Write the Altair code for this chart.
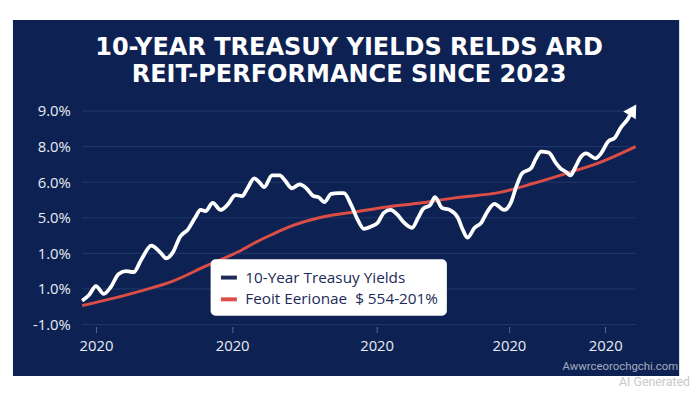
import altair as alt
import pandas as pd

# ---------------- data ----------------
title_lines = ["10-YEAR TREASUY YIELDS RELDS ARD", "REIT-PERFORMANCE SINCE 2023"]
y_tick_pos = [0, 1, 2, 3, 4, 5, 6]
y_tick_labels = ["-1.0%", "1.0%", "1.0%", "5.0%", "6.0%", "8.0%", "9.0%"]
x_tick_pos = [2.5, 27.1, 53.2, 77.1, 94.5]
x_tick_labels = ["2020", "2020", "2020", "2020", "2020"]
series_names = ["10-Year Treasuy Yields", "Feoit Eerionae\u00a0 $ 554-201%"]

treasury_t = [0, 1.25, 2.5, 3.9, 5.2, 6.6, 8.0, 9.3, 10.7, 12.5, 14.1, 15.2, 16.4, 17.7,
              19.1, 20.4, 21.4, 22.3, 23.6, 25.0, 26.25, 27.7, 28.9, 29.8, 31.1, 32.0,
              32.9, 34.3, 35.7, 36.6, 37.9, 39.3, 40.5, 41.8, 42.7, 43.75, 45.0, 46.25,
              47.3, 48.6, 49.8, 50.9, 52.1, 53.4, 54.5, 55.7, 57.0, 58.0, 59.6, 60.7,
              61.6, 62.9, 63.75, 65.0, 66.4, 67.9, 68.75, 69.6, 70.9, 72.1, 73.2, 74.5,
              76.25, 77.5, 78.4, 79.5, 81.1, 82.0, 82.9, 84.3, 85.5, 86.4, 87.5, 88.2,
              89.1, 90.0, 91.1, 92.7, 93.75, 95.0, 96.25, 97.3, 98.6, 99.5]
treasury_v = [0.67, 0.83, 1.08, 0.86, 1.06, 1.42, 1.50, 1.47, 1.83, 2.22, 2.03, 1.86, 2.03,
              2.47, 2.67, 3.00, 3.22, 3.19, 3.42, 3.22, 3.36, 3.64, 3.61, 3.81, 4.11, 4.00,
              3.86, 4.19, 4.19, 4.06, 3.83, 3.94, 3.83, 3.61, 3.58, 3.44, 3.67, 3.69, 3.69,
              3.36, 2.94, 2.69, 2.75, 2.86, 3.14, 3.22, 3.08, 2.89, 2.72, 3.00, 3.25, 3.36,
              3.58, 3.28, 3.22, 3.00, 2.67, 2.44, 2.72, 2.86, 3.17, 3.39, 3.22, 3.44, 3.86,
              4.25, 4.39, 4.67, 4.86, 4.83, 4.56, 4.39, 4.28, 4.19, 4.42, 4.69, 4.81, 4.67,
              4.81, 5.14, 5.25, 5.53, 5.78, 6.03]

reit_t = [0, 10.5, 16.4, 22.3, 28.4, 31.6, 34.3, 37.5, 43.6, 49.5, 55.4, 61.4, 67.3,
          75.7, 81.6, 87.5, 93.6, 100]
reit_v = [0.53, 0.94, 1.22, 1.64, 2.06, 2.33, 2.53, 2.75, 3.03, 3.17, 3.31, 3.42, 3.56,
          3.72, 3.97, 4.25, 4.56, 5.00]

# ---------------- styling ----------------
NAVY_BG = "#0d2252"
GRID = "#22396c"
WHITE = "#ffffff"
RED = "#dc4d46"
SWATCH_NAVY = "#1b2a58"
TXT = "#e8ecf4"

W, H = 560, 216

rows = []
for t, v in zip(treasury_t, treasury_v):
    rows.append({"t": t, "v": v, "series": series_names[0]})
for t, v in zip(reit_t, reit_v):
    rows.append({"t": t, "v": v, "series": series_names[1]})
df_lines = pd.DataFrame(rows)
df_tr = pd.DataFrame({"t": treasury_t, "v": treasury_v})
df_tip = df_tr.tail(1)
df_grid = pd.DataFrame({"g": y_tick_pos})

x_scale = alt.Scale(domain=[0, 100], nice=False, zero=False)
y_scale = alt.Scale(domain=[0, 6], nice=False, zero=False)

y_expr = "[" + ",".join("'%s'" % s for s in y_tick_labels) + "][datum.value]"
x_expr = ("[" + ",".join("'%s'" % s for s in x_tick_labels) + "][indexof(["
          + ",".join(str(p) for p in x_tick_pos) + "], datum.value)]")

y_axis = alt.Axis(values=y_tick_pos, labelExpr=y_expr, title=None, grid=False,
                  domain=False, ticks=False, labelColor=TXT, labelFontSize=15,
                  labelFont="Open Sans", labelPadding=12, zindex=1)
x_axis = alt.Axis(values=x_tick_pos, labelExpr=x_expr, title=None, grid=False,
                  domain=False, ticks=True, tickColor="#5a6a92", tickSize=6,
                  labelColor=TXT, labelFontSize=15, labelFont="Open Sans",
                  labelPadding=6, offset=2, zindex=1)

bg = alt.Chart(pd.DataFrame({"a": [0]})).mark_rect(color=NAVY_BG).encode(
    x=alt.value(-70), x2=alt.value(604), y=alt.value(-92), y2=alt.value(268)
)

grid = alt.Chart(df_grid).mark_rule(color=GRID, strokeWidth=1).encode(
    y=alt.Y("g:Q", scale=y_scale, axis=y_axis)
)

lines = alt.Chart(df_lines).mark_line(strokeWidth=3, interpolate="monotone").encode(
    x=alt.X("t:Q", scale=x_scale, axis=x_axis),
    y=alt.Y("v:Q", scale=y_scale, axis=y_axis),
    color=alt.Color("series:N",
                    scale=alt.Scale(domain=series_names, range=[SWATCH_NAVY, RED]),
                    legend=alt.Legend(title=None, orient="none", legendX=130, legendY=150,
                                      fillColor=WHITE, cornerRadius=5, padding=8,
                                      symbolType="stroke", symbolStrokeWidth=4,
                                      symbolSize=260, labelFont="Open Sans",
                                      labelFontSize=15.5, labelColor=SWATCH_NAVY,
                                      labelOffset=6, rowPadding=3, labelLimit=400)),
    detail="series:N",
)

white_line = alt.Chart(df_tr).mark_line(color=WHITE, strokeWidth=3.8,
                                        interpolate="monotone").encode(
    x=alt.X("t:Q", scale=x_scale, axis=x_axis), y=alt.Y("v:Q", scale=y_scale, axis=y_axis)
)

tip = alt.Chart(df_tip).mark_point(shape="triangle-up", filled=True, color=WHITE,
                                   opacity=1, size=220, angle=32).encode(
    x=alt.X("t:Q", scale=x_scale, axis=x_axis), y=alt.Y("v:Q", scale=y_scale, axis=y_axis)
)

title_df = pd.DataFrame({"s": title_lines, "yy": [-57, -29]})
title = alt.Chart(title_df).mark_text(
    align="center", baseline="alphabetic", fontSize=24.3, font="DejaVu Sans",
    fontWeight="bold", color=WHITE
).encode(x=alt.value(270), y=alt.Y("yy:Q", scale=None), text="s:N")

wm = alt.Chart(pd.DataFrame({"s": ["Awwrceorochgchi.com"]})).mark_text(
    align="right", baseline="middle", fontSize=11.5, color="#a3acc0", font="Roboto"
).encode(x=alt.value(603), y=alt.value(259), text="s:N")

ai = alt.Chart(pd.DataFrame({"s": ["AI Generated"]})).mark_text(
    align="right", baseline="middle", fontSize=12.5, color="#c9c9c9", font="Roboto"
).encode(x=alt.value(615), y=alt.value(274), text="s:N")

chart = alt.layer(bg, grid, lines, white_line, tip, title, wm, ai).properties(
    width=W, height=H,
    autosize=alt.AutoSizeParams(type="none"),
    padding={"left": 75, "top": 102, "right": 57, "bottom": 65},
    background="white",
).configure_view(stroke=None)

chart.save("out.html", embed_options={"renderer": "svg", "actions": False})
